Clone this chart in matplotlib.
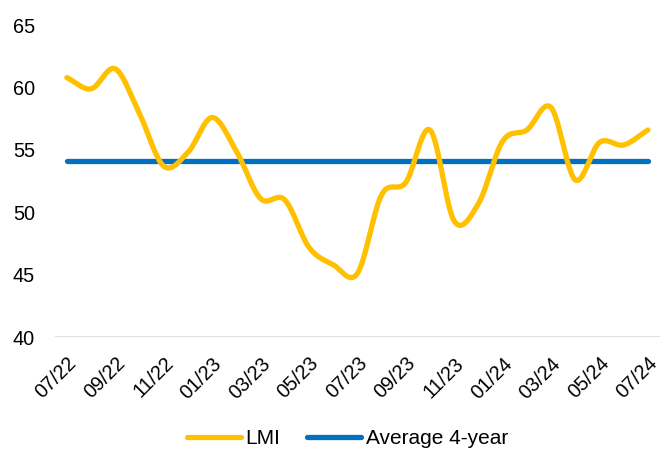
import numpy as np
import matplotlib
matplotlib.use("Agg")
import matplotlib.pyplot as plt
from matplotlib.lines import Line2D
from matplotlib.transforms import ScaledTranslation

plt.rcParams['font.family'] = ['Liberation Sans', 'DejaVu Sans']

months = ["07/22", "08/22", "09/22", "10/22", "11/22", "12/22", "01/23", "02/23",
          "03/23", "04/23", "05/23", "06/23", "07/23", "08/23", "09/23", "10/23",
          "11/23", "12/23", "01/24", "02/24", "03/24", "04/24", "05/24", "06/24", "07/24"]
lmi = [60.8, 59.9, 61.5, 57.9, 53.7, 54.8, 57.6, 54.9,
       51.1, 51.0, 47.2, 45.8, 45.1, 51.4, 52.4, 56.6,
       49.3, 50.7, 55.7, 56.6, 58.4, 52.6, 55.6, 55.4, 56.6]
avg_4yr = 54.1

def catmull_rom(x, y, n=30):
    x = np.asarray(x, float); y = np.asarray(y, float)
    px = np.concatenate([[2*x[0]-x[1]], x, [2*x[-1]-x[-2]]])
    py = np.concatenate([[2*y[0]-y[1]], y, [2*y[-1]-y[-2]]])
    xs, ys = [], []
    t = np.linspace(0, 1, n, endpoint=False)
    for i in range(1, len(px)-2):
        for P, out in ((px, xs), (py, ys)):
            p0, p1, p2, p3 = P[i-1], P[i], P[i+1], P[i+2]
            out.extend(0.5*((2*p1) + (-p0+p2)*t + (2*p0-5*p1+4*p2-p3)*t**2 + (-p0+3*p1-3*p2+p3)*t**3))
    xs.append(x[-1]); ys.append(y[-1])
    return np.array(xs), np.array(ys)

fig = plt.figure(figsize=(6.68, 4.5), dpi=100)
ax = fig.add_axes([0.082, 0.251, 0.906, 0.693])

idx = np.arange(len(months))
sx, sy = catmull_rom(idx, lmi)
ax.plot(sx, sy, color='#FFC000', lw=3.8, solid_capstyle='round', zorder=3)
ax.plot([idx[0], idx[-1]], [avg_4yr, avg_4yr], color='#0070C0', lw=3.8,
        solid_capstyle='round', zorder=2)

ax.set_xlim(-0.5, len(months) - 0.5)
ax.set_ylim(40, 65)
ax.set_yticks(range(40, 66, 5))
ax.set_xticks(idx[::2])
ax.set_xticklabels(months[::2], rotation=45, ha='right', va='top',
                   rotation_mode='anchor', fontsize=14.3)
shift = ScaledTranslation(-4/100, 0, fig.dpi_scale_trans)
for lab in ax.get_xticklabels():
    lab.set_transform(lab.get_transform() + shift)
ax.tick_params(axis='y', labelsize=14.3, length=0, pad=14.4)
ax.tick_params(axis='x', length=0, pad=12)
for s in ax.spines.values():
    s.set_visible(False)
ax.axhline(40, color='#D9D9D9', lw=1.2, zorder=1)

handles = [Line2D([], [], color='#FFC000', lw=3.8, solid_capstyle='round'),
           Line2D([], [], color='#0070C0', lw=3.8, solid_capstyle='round')]
fig.legend(handles, ['LMI', 'Average 4-year'], loc='center',
           bbox_to_anchor=(0.52, 1 - 439/450), ncol=2, frameon=False, fontsize=15,
           handlelength=2.6, handletextpad=0.2, columnspacing=1.3,
           borderpad=0, borderaxespad=0)

fig.savefig('out.png', dpi=100)
